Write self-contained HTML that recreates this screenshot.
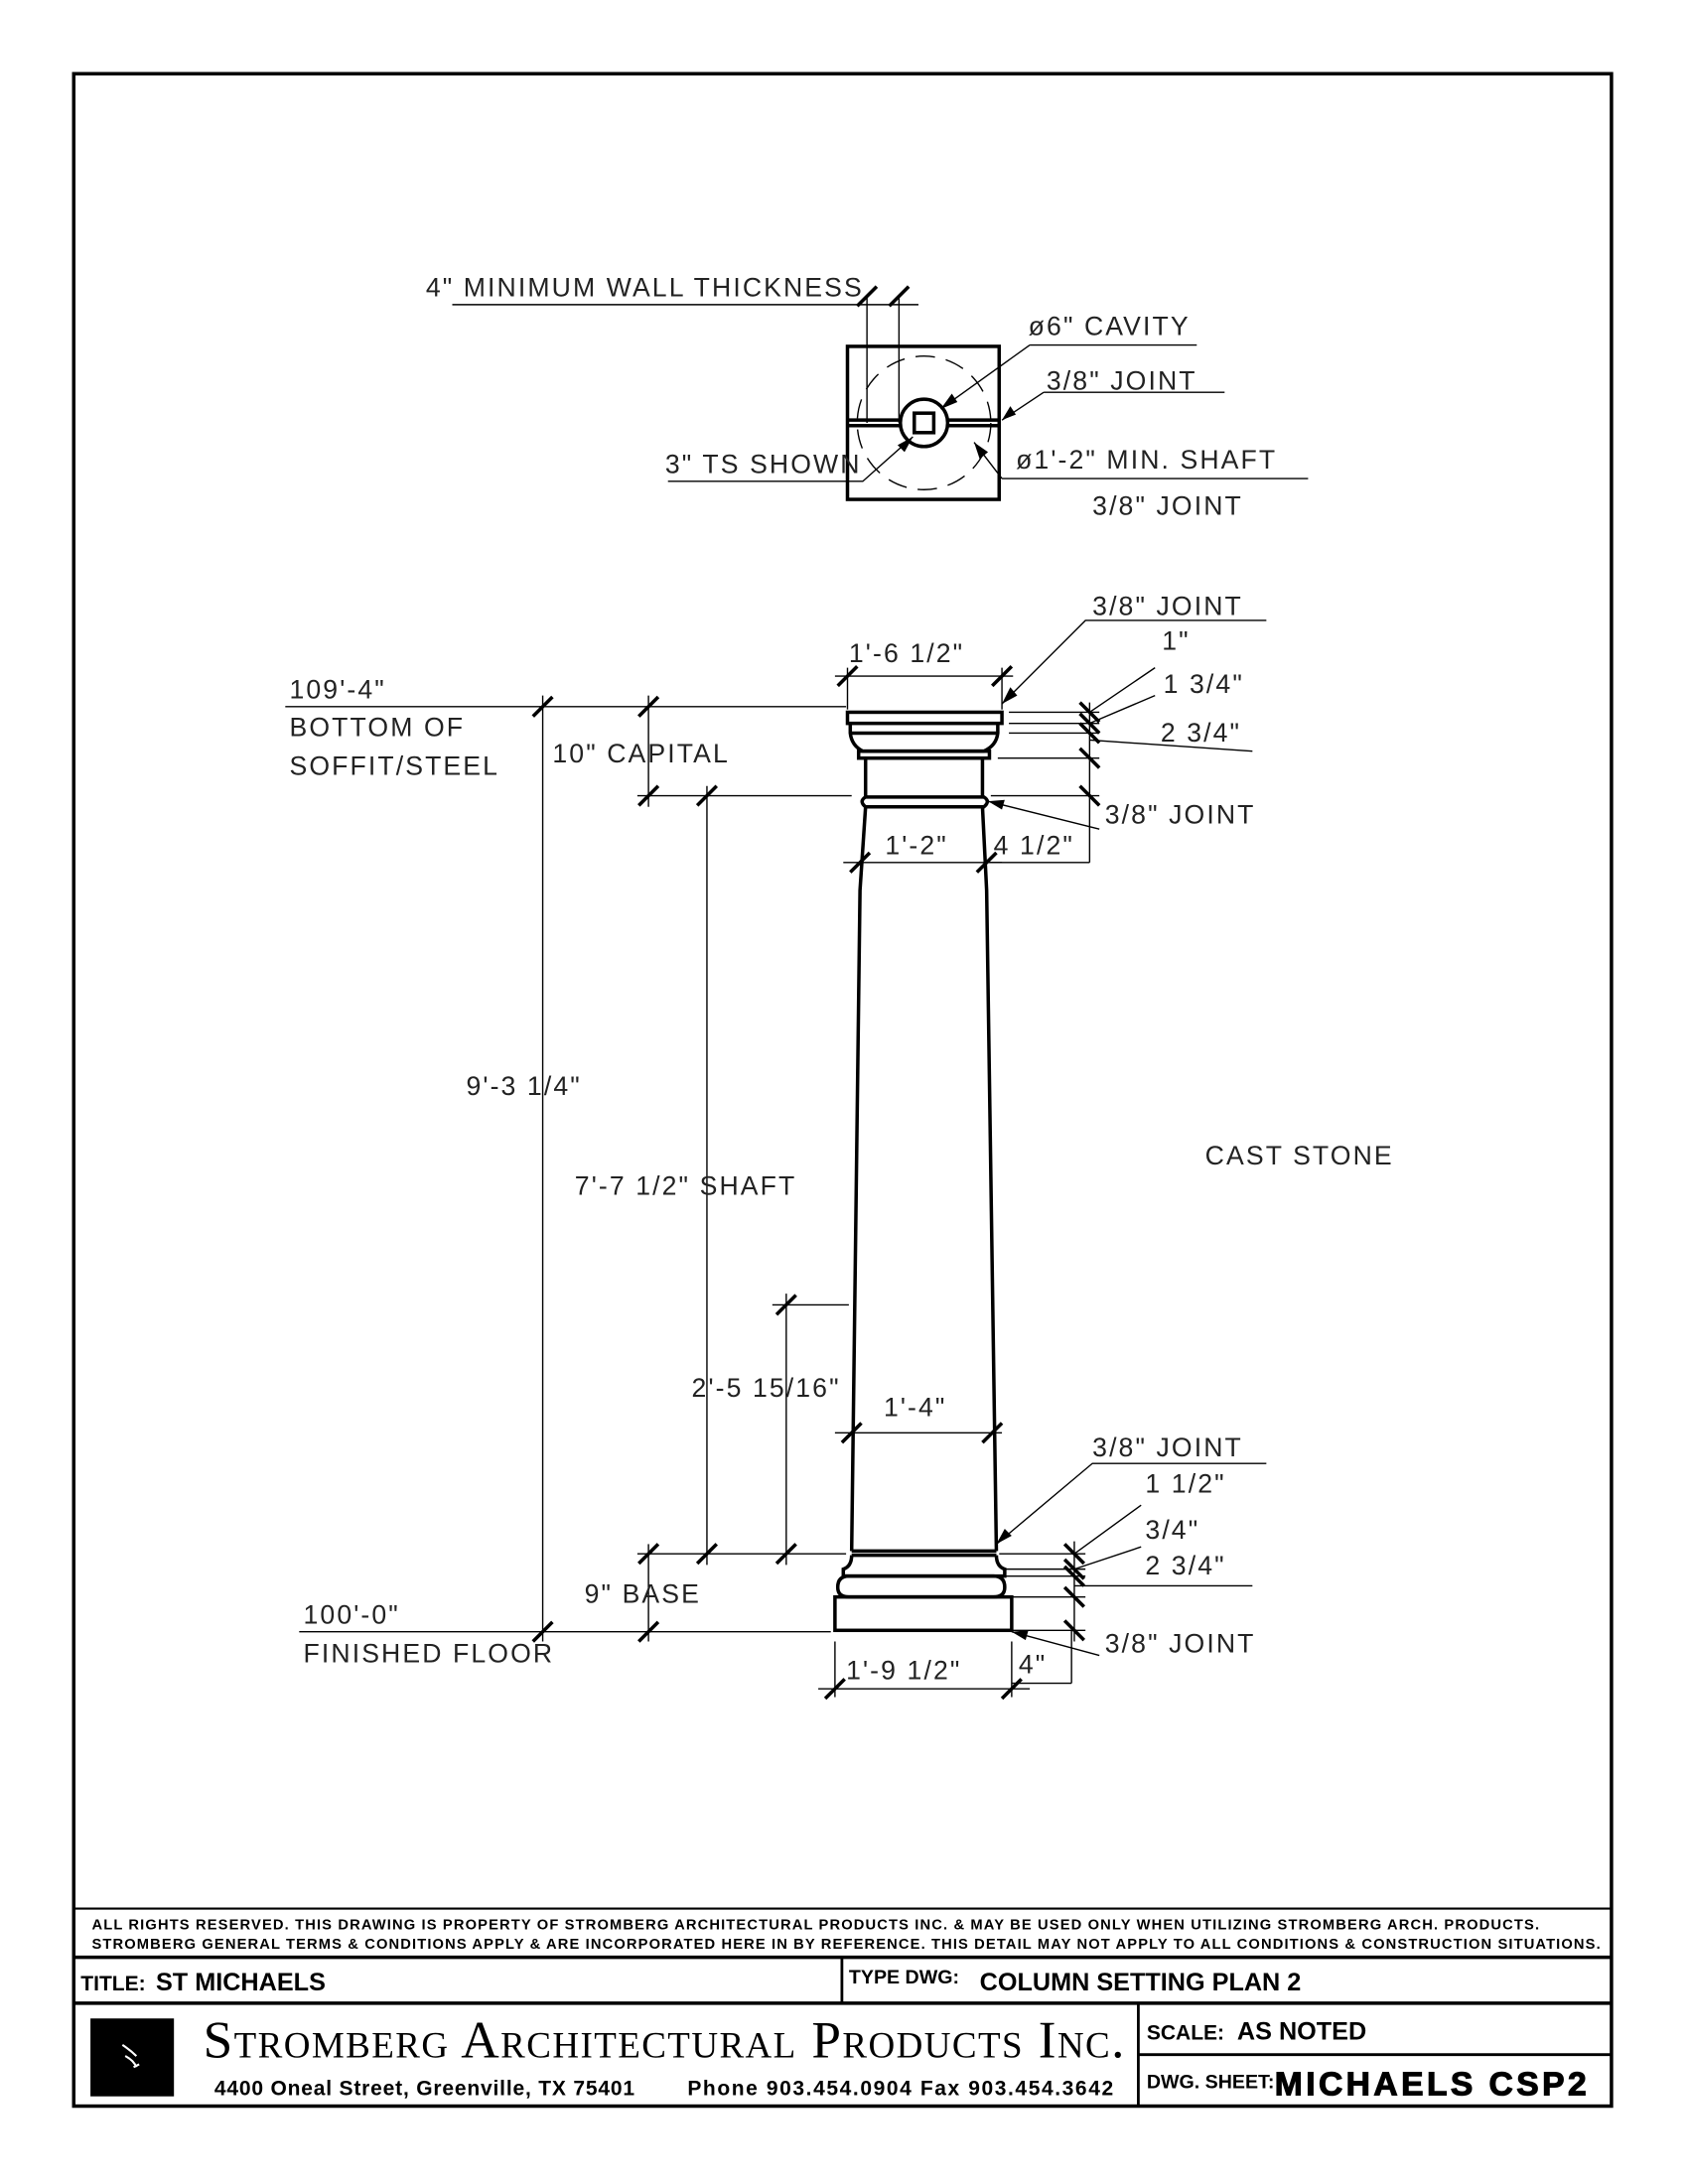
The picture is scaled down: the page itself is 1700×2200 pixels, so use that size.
<!DOCTYPE html>
<html><head><meta charset="utf-8"><style>
html,body{margin:0;padding:0;background:#fff}
svg{display:block}
.t{font-family:"Liberation Sans",sans-serif;font-size:19px;letter-spacing:1.5px;fill:#222}
.b{font-family:"Liberation Sans",sans-serif;font-weight:bold;fill:#000}
</style></head><body>
<svg width="1700" height="2200" viewBox="0 0 1213 1570" preserveAspectRatio="none" xmlns="http://www.w3.org/2000/svg">
<rect x="0" y="0" width="1213" height="1570" fill="#fff"/>
<g fill="none" stroke="#000">
<rect x="53" y="53" width="1105" height="1461" stroke-width="2.5"/>
<line x1="53" y1="1372" x2="1158" y2="1372" stroke-width="1.5"/>
<line x1="53" y1="1407" x2="1158" y2="1407" stroke-width="2.5"/>
<line x1="53" y1="1440" x2="1158" y2="1440" stroke-width="2.5"/>
<line x1="605" y1="1407" x2="605" y2="1440" stroke-width="2"/>
<line x1="818" y1="1440" x2="818" y2="1514" stroke-width="2"/>
<line x1="818" y1="1477" x2="1158" y2="1477" stroke-width="2"/>
</g>
<rect x="65" y="1451" width="60" height="56" fill="#000"/>
<path d="M88 1470 q6 4 10 8 M90 1478 q6 3 8 8 M96 1486 l4 -2" stroke="#fff" stroke-width="1.5" fill="none"/>
<text class="b" x="66" y="1387" font-size="10.5" textLength="1040">ALL RIGHTS RESERVED. THIS DRAWING IS PROPERTY OF STROMBERG ARCHITECTURAL PRODUCTS INC. &amp; MAY BE USED ONLY WHEN UTILIZING STROMBERG ARCH. PRODUCTS.</text>
<text class="b" x="66" y="1401" font-size="10.5" textLength="1084">STROMBERG GENERAL TERMS &amp; CONDITIONS APPLY &amp; ARE INCORPORATED HERE IN BY REFERENCE. THIS DETAIL MAY NOT APPLY TO ALL CONDITIONS &amp; CONSTRUCTION SITUATIONS.</text>
<text class="b" x="58" y="1431" font-size="15" font-weight="normal">TITLE:</text>
<text class="b" x="112" y="1431" font-size="18">ST MICHAELS</text>
<text class="b" x="610" y="1426" font-size="14" font-weight="normal">TYPE DWG:</text>
<text class="b" x="704" y="1431" font-size="18">COLUMN SETTING PLAN 2</text>
<text x="146" y="1479" font-family="Liberation Serif,serif" font-size="38" font-variant="small-caps" textLength="662" lengthAdjust="spacing" fill="#000">Stromberg Architectural Products Inc.</text>
<text class="b" x="154" y="1506" font-size="15" textLength="302">4400 Oneal Street, Greenville, TX  75401</text>
<text class="b" x="494" y="1506" font-size="15" textLength="306">Phone 903.454.0904   Fax 903.454.3642</text>
<text class="b" x="824" y="1466" font-size="15" font-weight="normal">SCALE:</text>
<text class="b" x="889" y="1466" font-size="18">AS NOTED</text>
<text class="b" x="824" y="1501" font-size="14" font-weight="normal">DWG. SHEET:</text>
<text class="b" x="916" y="1506" font-size="24" font-weight="900" stroke="#000" stroke-width="0.8" textLength="224" lengthAdjust="spacing">MICHAELS CSP2</text>

<!-- plan view -->
<g fill="none" stroke="#000">
<rect x="609" y="249" width="109" height="110" stroke-width="2.5"/>
<line x1="609" y1="302" x2="718" y2="302" stroke-width="2.5"/>
<line x1="609" y1="306" x2="718" y2="306" stroke-width="2.5"/>
<circle cx="664" cy="304" r="48" stroke-width="1" stroke-dasharray="14 8"/>
<circle cx="664" cy="304" r="17" stroke-width="2.5" fill="#fff"/>
<rect x="657" y="297" width="14" height="14" stroke-width="2.5"/>
<line x1="623" y1="212" x2="623" y2="304" stroke-width="1"/>
<line x1="646" y1="212" x2="646" y2="304" stroke-width="1"/>
<line x1="325" y1="219" x2="660" y2="219" stroke-width="1"/>
<line x1="616" y1="220" x2="630" y2="206" stroke-width="2.5"/>
<line x1="639" y1="220" x2="653" y2="206" stroke-width="2.5"/>
<path d="M740 248 L860 248 M740 248 L676 294" stroke-width="1"/>
<path d="M750 282 L880 282 M750 282 L720 302" stroke-width="1"/>
<path d="M720 344 L940 344 M720 344 L700 318" stroke-width="1"/>
<path d="M480 346 L620 346 L656 314" stroke-width="1"/>
</g>
<g fill="#000">
<polygon points="676,294 684,283 688,289"/>
<polygon points="720,302 726,292 730,298"/>
<polygon points="700,318 704,330 710,325"/>
<polygon points="656,314 645,320 650,325"/>
</g>
<text class="t" x="306" y="213">4" MINIMUM WALL THICKNESS</text>
<text class="t" x="739" y="241">ø6" CAVITY</text>
<text class="t" x="752" y="280">3/8" JOINT</text>
<text class="t" x="478" y="340">3" TS SHOWN</text>
<text class="t" x="730" y="337">ø1'-2" MIN. SHAFT</text>
<text class="t" x="785" y="370">3/8" JOINT</text>

<!-- column -->
<g fill="none" stroke="#000" stroke-width="2.5">
<rect x="609" y="512" width="111" height="8"/>
<path d="M611 520 L611 527 Q612 536 620 540 L707 540 Q716 536 717 527 L717 520"/>
<line x1="611" y1="527" x2="717" y2="527"/>
<rect x="617" y="540" width="94" height="5"/>
<path d="M622 545 L622 573 M706 545 L706 573"/>
<path d="M622 573 L707 573 Q712 576 707 580 L622 580 Q617 576 622 573"/>
<path d="M622 580 L618 640 L612 1115 M706 580 L709 640 L716 1115"/>
<path d="M612 1115 L716 1115 M612 1118 L716 1118"/>
<path d="M612 1118 Q612 1126 606 1128 L606 1133 L722 1133 L722 1128 Q716 1126 716 1118"/>
<path d="M606 1133 L714 1133 Q722 1133 722 1141 Q722 1148 714 1148 L610 1148 Q602 1148 602 1141 Q602 1133 610 1133 Z"/>
<rect x="600" y="1148" width="127" height="24"/>
</g>
<!-- dimension lines -->
<g fill="none" stroke="#000" stroke-width="1">
<line x1="205" y1="508" x2="608" y2="508"/>
<line x1="390" y1="500" x2="390" y2="1180"/>
<line x1="466" y1="500" x2="466" y2="580"/>
<line x1="466" y1="1110" x2="466" y2="1180"/>
<line x1="508" y1="565" x2="508" y2="1125"/>
<line x1="565" y1="930" x2="565" y2="1125"/>
<line x1="458" y1="572" x2="612" y2="572"/>
<line x1="458" y1="1117" x2="608" y2="1117"/>
<line x1="555" y1="938" x2="610" y2="938"/>
<line x1="215" y1="1173" x2="597" y2="1173"/>
<line x1="600" y1="486" x2="728" y2="486"/>
<line x1="609" y1="480" x2="609" y2="510"/>
<line x1="720" y1="480" x2="720" y2="510"/>
<line x1="606" y1="620" x2="720" y2="620"/>
<line x1="600" y1="1030" x2="720" y2="1030"/>
<line x1="588" y1="1214" x2="740" y2="1214"/>
<line x1="600" y1="1180" x2="600" y2="1220"/>
<line x1="727" y1="1180" x2="727" y2="1220"/>
<line x1="727" y1="1210" x2="770" y2="1210"/>
<line x1="770" y1="1172" x2="770" y2="1210"/>
<line x1="725" y1="512" x2="790" y2="512"/>
<line x1="725" y1="520" x2="790" y2="520"/>
<line x1="725" y1="527" x2="790" y2="527"/>
<line x1="717" y1="545" x2="790" y2="545"/>
<line x1="712" y1="572" x2="790" y2="572"/>
<line x1="783" y1="505" x2="783" y2="620"/>
<line x1="710" y1="620" x2="783" y2="620"/>
<path d="M783 512 L830 480 M783 520 L830 500 M783 532 L900 540"/>
<path d="M720 506 L780 446 L910 446"/>
<path d="M710 576 L790 596"/>
<line x1="718" y1="1117" x2="780" y2="1117"/>
<line x1="722" y1="1128" x2="780" y2="1128"/>
<line x1="722" y1="1133" x2="780" y2="1133"/>
<line x1="722" y1="1148" x2="780" y2="1148"/>
<line x1="727" y1="1172" x2="780" y2="1172"/>
<line x1="772" y1="1108" x2="772" y2="1180"/>
<path d="M772 1117 L820 1082 M772 1128 L820 1112 M772 1140 L900 1140"/>
<path d="M716 1110 L785 1052 L910 1052"/>
<path d="M727 1173 L790 1190"/>
</g>
<g stroke="#000" stroke-width="2.5">
<line x1="383" y1="515" x2="397" y2="501"/><line x1="383" y1="1180" x2="397" y2="1166"/>
<line x1="459" y1="515" x2="473" y2="501"/><line x1="459" y1="579" x2="473" y2="565"/>
<line x1="459" y1="1124" x2="473" y2="1110"/><line x1="459" y1="1180" x2="473" y2="1166"/>
<line x1="501" y1="579" x2="515" y2="565"/><line x1="501" y1="1124" x2="515" y2="1110"/>
<line x1="558" y1="945" x2="572" y2="931"/><line x1="558" y1="1124" x2="572" y2="1110"/>
<line x1="602" y1="493" x2="616" y2="479"/><line x1="713" y1="493" x2="727" y2="479"/>
<line x1="611" y1="627" x2="625" y2="613"/><line x1="702" y1="627" x2="716" y2="613"/>
<line x1="605" y1="1037" x2="619" y2="1023"/><line x1="706" y1="1037" x2="720" y2="1023"/>
<line x1="593" y1="1221" x2="607" y2="1207"/><line x1="720" y1="1221" x2="734" y2="1207"/>
<line x1="776" y1="505" x2="790" y2="519"/><line x1="776" y1="513" x2="790" y2="527"/><line x1="776" y1="520" x2="790" y2="534"/>
<line x1="776" y1="538" x2="790" y2="552"/><line x1="776" y1="565" x2="790" y2="579"/>
<line x1="765" y1="1110" x2="779" y2="1124"/><line x1="765" y1="1121" x2="779" y2="1135"/><line x1="765" y1="1126" x2="779" y2="1140"/>
<line x1="765" y1="1141" x2="779" y2="1155"/><line x1="765" y1="1165" x2="779" y2="1179"/>
</g>
<g fill="#000">
<polygon points="720,506 726,494 731,500"/>
<polygon points="710,576 722,575 720,582"/>
<polygon points="716,1110 722,1099 727,1104"/>
<polygon points="727,1173 739,1172 737,1179"/>
</g>
<text class="t" x="610" y="476">1'-6 1/2"</text>
<text class="t" x="785" y="442">3/8" JOINT</text>
<text class="t" x="835" y="467">1"</text>
<text class="t" x="836" y="498">1 3/4"</text>
<text class="t" x="834" y="533">2 3/4"</text>
<text class="t" x="794" y="592">3/8" JOINT</text>
<text class="t" x="636" y="614">1'-2"</text>
<text class="t" x="714" y="614">4 1/2"</text>
<text class="t" x="208" y="502">109'-4"</text>
<text class="t" x="208" y="529">BOTTOM OF</text>
<text class="t" x="208" y="557">SOFFIT/STEEL</text>
<text class="t" x="397" y="548">10" CAPITAL</text>
<text class="t" x="335" y="787">9'-3 1/4"</text>
<text class="t" x="413" y="859">7'-7 1/2" SHAFT</text>
<text class="t" x="866" y="837">CAST STONE</text>
<text class="t" x="497" y="1004">2'-5 15/16"</text>
<text class="t" x="635" y="1018">1'-4"</text>
<text class="t" x="785" y="1047">3/8" JOINT</text>
<text class="t" x="823" y="1073">1 1/2"</text>
<text class="t" x="823" y="1106">3/4"</text>
<text class="t" x="823" y="1132">2 3/4"</text>
<text class="t" x="420" y="1152">9" BASE</text>
<text class="t" x="218" y="1167">100'-0"</text>
<text class="t" x="218" y="1195">FINISHED FLOOR</text>
<text class="t" x="794" y="1188">3/8" JOINT</text>
<text class="t" x="608" y="1207">1'-9 1/2"</text>
<text class="t" x="732" y="1203">4"</text>
</svg>
</body></html>
